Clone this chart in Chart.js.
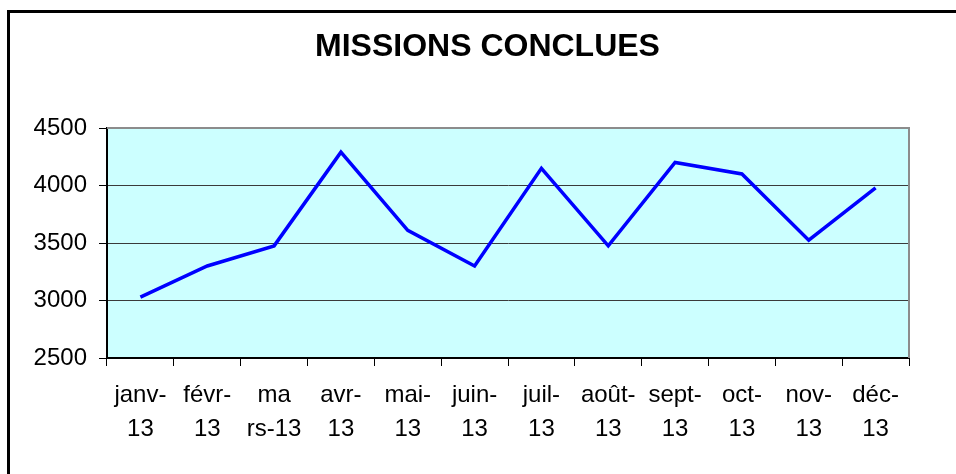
<!DOCTYPE html>
<html lang="fr">
<head>
  <meta charset="UTF-8" />
  <title>Missions conclues</title>
  <script src="https://cdn.jsdelivr.net/npm/chart.js"></script>
  <style>
    html, body { margin: 0; padding: 0; background: #fff; }
    #wrap { width: 956px; height: 474px; }
  </style>
</head>
<body>
  <div id="wrap"><canvas id="graphique"></canvas></div>

  <script>
    const mois = [
      ['janv-', '13'], ['févr-', '13'], ['ma', 'rs-13'], ['avr-', '13'],
      ['mai-', '13'], ['juin-', '13'], ['juil-', '13'], ['août-', '13'],
      ['sept-', '13'], ['oct-', '13'], ['nov-', '13'], ['déc-', '13']
    ];
    const missions = [3030, 3300, 3475, 4290, 3610, 3300, 4150, 3475, 4200, 4100, 3525, 3980];
    const yMin = 2500, yMax = 4500, yPas = 500;

    // cadre extérieur + fond de la zone de tracé
    const cadre = {
      id: 'cadre',
      afterLayout(chart) {
        // le titre est centré sur le cadre extérieur, pas sur la zone de tracé
        chart.titleBlock.left = 66;
        chart.titleBlock.right = 909;
      },
      beforeDraw(chart) {
        const { ctx, chartArea: a } = chart;
        ctx.save();
        ctx.fillStyle = '#fff';
        ctx.fillRect(0, 0, chart.width, chart.height);
        ctx.lineWidth = 3;
        ctx.strokeStyle = '#000';
        ctx.strokeRect(8.5, 11.5, 2000, 2000);
        ctx.fillStyle = '#ccffff';
        ctx.fillRect(a.left, a.top, a.right - a.left, a.bottom - a.top);
        ctx.restore();
      },
      afterDraw(chart) {
        const { ctx, chartArea: a } = chart;
        ctx.save();
        ctx.strokeStyle = '#8c8c8c';
        ctx.lineWidth = 2;
        ctx.beginPath();
        ctx.moveTo(a.left, a.top);
        ctx.lineTo(a.right, a.top);
        ctx.lineTo(a.right, a.bottom);
        ctx.stroke();
        ctx.restore();
      }
    };

    Chart.defaults.font.family = '"Liberation Sans", Arial, sans-serif';
    Chart.defaults.color = '#000';

    new Chart(document.getElementById('graphique'), {
      type: 'line',
      data: {
        labels: mois,
        datasets: [{
          label: 'Missions conclues',
          data: missions,
          borderColor: '#0000ff',
          borderWidth: 3.5,
          pointRadius: 0,
          tension: 0
        }]
      },
      options: {
        responsive: true,
        maintainAspectRatio: false,
        animation: false,
        layout: { padding: { left: 20, right: 47, top: 0, bottom: 0 } },
        plugins: {
          legend: { display: false },
          tooltip: { enabled: false },
          title: {
            display: true,
            text: 'MISSIONS CONCLUES',
            color: '#000',
            font: { size: 32, weight: 'bold' },
            padding: { top: 28, bottom: 61.6 }
          }
        },
        scales: {
          x: {
            offset: true,
            afterFit(s) { s.height = 116; },
            grid: { offset: true, drawOnChartArea: false, tickLength: 8, tickColor: '#000' },
            border: { color: '#000', width: 2 },
            ticks: {
              autoSkip: false, maxRotation: 0, minRotation: 0, padding: 12,
              font: { size: 24, lineHeight: 1.43 }
            }
          },
          y: {
            min: yMin, max: yMax,
            afterFit(s) { s.width = 87; },
            grid: {
              color: ctx => ctx.tick && ctx.tick.value === yMax ? '#8c8c8c' : '#3a3a3a',
              tickLength: 8, tickColor: '#000'
            },
            border: { color: '#000', width: 2 },
            ticks: {
              stepSize: yPas, padding: 12, font: { size: 24 },
              callback: v => String(v)
            }
          }
        }
      },
      plugins: [cadre]
    });
  </script>
</body>
</html>
